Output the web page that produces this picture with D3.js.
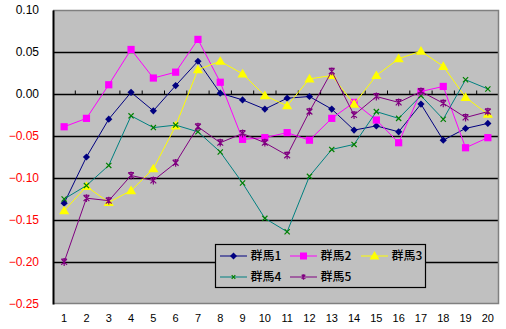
<!DOCTYPE html>
<html>
<head>
<meta charset="utf-8">
<script src="https://cdn.jsdelivr.net/npm/d3@7"></script>
<style>
  html, body { margin: 0; padding: 0; background: #fff; }
  svg { display: block; }
  text { font-family: "Liberation Sans", Arial, sans-serif; }
  .leg text { font-family: "Noto Sans CJK JP", "Liberation Sans", sans-serif; }
</style>
</head>
<body>
<svg id="chart" width="506" height="329"></svg>
<script>
// Category labels along the x axis
const categories = d3.range(1, 21).map(String);

// Y axis tick values
const yTicks = [0.10, 0.05, 0.00, -0.05, -0.10, -0.15, -0.20, -0.25];

// Series names
const seriesNames = ["群馬1", "群馬2", "群馬3", "群馬4", "群馬5"];

// Series values, one per category
const gunma1 = [-0.130, -0.075, -0.030, 0.002, -0.020, 0.010, 0.039, 0.001, -0.007, -0.018,
                -0.005, -0.003, -0.018, -0.043, -0.038, -0.045, -0.012, -0.055, -0.041, -0.035];
const gunma2 = [-0.039, -0.029, 0.011, 0.053, 0.019, 0.026, 0.065, 0.014, -0.054, -0.052,
                -0.046, -0.055, -0.029, -0.010, -0.031, -0.058, 0.003, 0.009, -0.064, -0.052];
const gunma3 = [-0.139, -0.110, -0.129, -0.115, -0.089, -0.038, 0.029, 0.039, 0.024, -0.002,
                -0.014, 0.018, 0.022, -0.012, 0.022, 0.042, 0.051, 0.033, -0.004, -0.024];
const gunma4 = [-0.125, -0.109, -0.085, -0.026, -0.040, -0.037, -0.045, -0.069, -0.106, -0.148,
                -0.164, -0.098, -0.066, -0.060, -0.021, -0.029, -0.002, -0.030, 0.017, 0.006];
const gunma5 = [-0.200, -0.124, -0.127, -0.097, -0.103, -0.082, -0.039, -0.058, -0.047, -0.058,
                -0.073, -0.021, 0.027, -0.025, -0.003, -0.010, 0.003, -0.011, -0.028, -0.021];

const seriesValues = [gunma1, gunma2, gunma3, gunma4, gunma5];

// Line colours, marker colours and marker kinds per series
const lineColors   = ["#000080", "#FF00FF", "#FFFF00", "#008080", "#800080"];
const markerColors = ["#000080", "#FF00FF", "#FFFF00", "#008000", "#800080"];
const markerKinds  = ["diamond", "square", "triangle", "cross", "star"];

const svg = d3.select("#chart");
const plot = { left: 53, right: 499, top: 10, bottom: 304 };

const x = d3.scaleBand().domain(categories).range([plot.left, plot.right]);
const y = d3.scaleLinear().domain([-0.25, 0.10]).range([plot.bottom, plot.top]);

// Plot area background
svg.append("rect")
  .attr("x", plot.left).attr("y", plot.top)
  .attr("width", plot.right - plot.left).attr("height", plot.bottom - plot.top)
  .attr("fill", "#C0C0C0");

// Horizontal gridlines
svg.append("g")
  .selectAll("line")
  .data(yTicks.filter(v => v < 0.099 && v > -0.249))
  .join("line")
  .attr("x1", plot.left).attr("x2", plot.right)
  .attr("y1", d => Math.round(y(d)) + 0.5).attr("y2", d => Math.round(y(d)) + 0.5)
  .attr("stroke", "#000").attr("stroke-width", 1.5);

// Plot area border (top, right, bottom in gray)
svg.append("path")
  .attr("d", `M${plot.left},${plot.top + 0.5}H${plot.right - 0.5}V${plot.bottom - 0.5}H${plot.left}`)
  .attr("fill", "none").attr("stroke", "#808080").attr("stroke-width", 1.5);

// Y axis
const yAxis = d3.axisLeft(y).tickValues(yTicks).tickSize(0).tickPadding(14)
  .tickFormat(d3.format(".2f"));
const yg = svg.append("g").attr("transform", `translate(${plot.left},0)`).call(yAxis);
yg.select(".domain").attr("stroke", "#000").attr("stroke-width", 2);
yg.selectAll("text")
  .attr("font-size", 12)
  .attr("font-family", "Liberation Sans, Arial, sans-serif")
  .attr("fill", d => d < 0 ? "#FF0000" : "#000")
  .text(d => d < 0 ? "\u2212" + d3.format(".2f")(-d) : d3.format(".2f")(d));

// X axis line at zero with boundary ticks pointing up
const zeroY = Math.round(y(0)) + 0.5;
svg.append("g")
  .selectAll("line")
  .data(categories.slice(1))
  .join("line")
  .attr("x1", d => x(d)).attr("x2", d => x(d))
  .attr("y1", zeroY).attr("y2", zeroY - 4)
  .attr("stroke", "#000").attr("stroke-width", 1);

// Category labels at the bottom
const xAxis = d3.axisBottom(x).tickSize(0).tickPadding(10);
const xg = svg.append("g").attr("transform", `translate(0,${plot.bottom})`).call(xAxis);
xg.select(".domain").remove();
xg.selectAll("text").attr("font-size", 11).attr("fill", "#000")
  .attr("font-family", "Liberation Sans, Arial, sans-serif");

// Marker drawing
function drawMarker(g, kind, color, s) {
  if (kind === "diamond") {
    g.append("path").attr("d", `M0,${-s}L${s},0L0,${s}L${-s},0Z`).attr("fill", color);
  } else if (kind === "square") {
    g.append("rect").attr("x", -s).attr("y", -s).attr("width", 2 * s).attr("height", 2 * s).attr("fill", color);
  } else if (kind === "triangle") {
    g.append("path").attr("d", `M0,${-s - 1.5}L${s + 1.5},${s}L${-s - 1.5},${s}Z`).attr("fill", color);
  } else if (kind === "cross") {
    g.append("path").attr("d", `M${-s + 1},${-s + 1}L${s - 1},${s - 1}M${-s + 1},${s - 1}L${s - 1},${-s + 1}`)
      .attr("stroke", color).attr("stroke-width", 1.2).attr("fill", "none");
  } else if (kind === "star") {
    g.append("path").attr("d", `M${-s + 1},${-s + 1}L${s - 1},${s - 1}M${-s + 1},${s - 1}L${s - 1},${-s + 1}M0,${-s}V${s}M${-s + 1},${-s + 1}H${s - 1}`)
      .attr("stroke", color).attr("stroke-width", 1.2).attr("fill", "none");
  }
}

const line = d3.line()
  .x((d, i) => x(categories[i]) + x.bandwidth() / 2)
  .y(d => y(d));

const markerSize = [3.6, 3.6, 3.6, 3.6, 3.9];

// Series lines and markers
seriesValues.forEach((vals, si) => {
  svg.append("path")
    .datum(vals)
    .attr("d", line)
    .attr("fill", "none")
    .attr("stroke", lineColors[si])
    .attr("stroke-width", 1);
  vals.forEach((v, i) => {
    const g = svg.append("g")
      .attr("transform", `translate(${x(categories[i]) + x.bandwidth() / 2},${y(v)})`);
    drawMarker(g, markerKinds[si], markerColors[si], markerSize[si]);
  });
});

// Legend
const leg = svg.append("g").attr("class", "leg");
leg.append("rect")
  .attr("x", 215.5).attr("y", 244.5).attr("width", 210).attr("height", 43)
  .attr("fill", "#C0C0C0").attr("stroke", "#000").attr("stroke-width", 1.2);
const legPos = [
  { lx: 220, ty: 256 }, { lx: 290, ty: 256 }, { lx: 361, ty: 256 },
  { lx: 220, ty: 277 }, { lx: 290, ty: 277 }
];
seriesNames.forEach((name, si) => {
  const p = legPos[si];
  leg.append("line")
    .attr("x1", p.lx).attr("x2", p.lx + 27)
    .attr("y1", p.ty).attr("y2", p.ty)
    .attr("stroke", lineColors[si]).attr("stroke-width", 1);
  const g = leg.append("g").attr("transform", `translate(${p.lx + 13.5},${p.ty})`);
  drawMarker(g, markerKinds[si], markerColors[si], si >= 3 ? 2.8 : 3.5);
  leg.append("text")
    .attr("x", p.lx + 30.5).attr("y", p.ty)
    .attr("dy", "0.36em")
    .attr("font-size", 12)
    .attr("font-weight", 500)
    .attr("fill", "#000")
    .text(name);
});
</script>
</body>
</html>
